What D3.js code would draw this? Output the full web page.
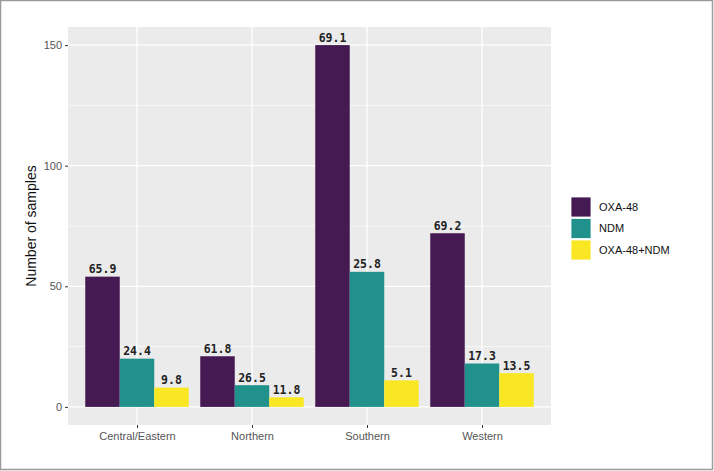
<!DOCTYPE html>
<html>
<head>
<meta charset="utf-8">
<script src="https://cdn.jsdelivr.net/npm/d3@7"></script>
<style>
  body { margin: 0; background: #fff; }
  svg { display: block; }
</style>
</head>
<body>
<div id="chart"></div>
<script>
// 데이터
const regions = ['Central/Eastern', 'Northern', 'Southern', 'Western'];
const genes = ['OXA-48', 'NDM', 'OXA-48+NDM'];
const oxa48 = [54, 21, 150, 72];
const ndm = [20, 9, 56, 18];
const oxaNdm = [8, 4, 11, 14];
const pctLabels = [
    ['65.9', '24.4', '9.8'],
    ['61.8', '26.5', '11.8'],
    ['69.1', '25.8', '5.1'],
    ['69.2', '17.3', '13.5']
];
const yTicks = [0, 50, 100, 150];
const yMinor = [25, 75, 125];
const colors = ['#451a53', '#21918c', '#f9e723'];

const W = 714, H = 471;
const panel = { left: 68, right: 551, top: 27, bottom: 425 };

const svg = d3.select('#chart').append('svg')
    .attr('width', W)
    .attr('height', H);

// 바깥 테두리
svg.append('rect')
    .attr('x', 0.5).attr('y', 0.5)
    .attr('width', 712).attr('height', 469)
    .attr('fill', '#fff')
    .attr('stroke', '#9a9a9a')
    .attr('stroke-width', 1.5);

// 스케일
const x = d3.scalePoint()
    .domain(regions)
    .range([panel.left, panel.right])
    .padding(0.6);
const step = x.step();

const y = d3.scaleLinear()
    .domain([-7.5, 157.5])
    .range([panel.bottom, panel.top]);

// 패널 배경
svg.append('rect')
    .attr('x', panel.left).attr('y', panel.top)
    .attr('width', panel.right - panel.left)
    .attr('height', panel.bottom - panel.top)
    .attr('fill', '#ebebeb');

// 그리드
yMinor.forEach(v => {
    svg.append('line')
        .attr('x1', panel.left).attr('x2', panel.right)
        .attr('y1', y(v)).attr('y2', y(v))
        .attr('stroke', '#fff').attr('stroke-width', 0.6);
});
yTicks.forEach(v => {
    svg.append('line')
        .attr('x1', panel.left).attr('x2', panel.right)
        .attr('y1', y(v)).attr('y2', y(v))
        .attr('stroke', '#fff').attr('stroke-width', 1.3);
});
regions.forEach(r => {
    svg.append('line')
        .attr('x1', x(r)).attr('x2', x(r))
        .attr('y1', panel.top).attr('y2', panel.bottom)
        .attr('stroke', '#fff').attr('stroke-width', 1.3);
});

// 막대
const series = [oxa48, ndm, oxaNdm];
const barW = step * 0.3;
regions.forEach((r, i) => {
    series.forEach((vals, j) => {
        const bx = x(r) - step * 0.45 + j * barW;
        svg.append('rect')
            .attr('x', bx)
            .attr('y', y(vals[i]))
            .attr('width', barW)
            .attr('height', y(0) - y(vals[i]))
            .attr('fill', colors[j]);

        svg.append('text')
            .attr('x', bx + barW / 2)
            .attr('y', y(vals[i]) - 3.5)
            .attr('text-anchor', 'middle')
            .attr('font-family', 'DejaVu Sans Mono')
            .attr('font-weight', 'bold')
            .attr('font-size', '11.5px')
            .attr('fill', '#222')
            .text(pctLabels[i][j]);
    });
});

// Y축
const yAxis = svg.append('g')
    .attr('transform', `translate(${panel.left},0)`)
    .call(d3.axisLeft(y).tickValues(yTicks).tickSize(3).tickPadding(3));
yAxis.select('.domain').remove();
yAxis.selectAll('line').attr('stroke', '#333').attr('stroke-width', 1);
yAxis.selectAll('text')
    .attr('font-family', 'Liberation Sans, Arial, sans-serif')
    .attr('font-size', '11px')
    .attr('fill', '#555');

// X축
const xAxis = svg.append('g')
    .attr('transform', `translate(0,${panel.bottom})`)
    .call(d3.axisBottom(x).tickSize(3).tickPadding(4));
xAxis.select('.domain').remove();
xAxis.selectAll('line').attr('stroke', '#333').attr('stroke-width', 1);
xAxis.selectAll('text')
    .attr('font-family', 'Liberation Sans, Arial, sans-serif')
    .attr('font-size', '11px')
    .attr('fill', '#555');

// Y축 제목
svg.append('text')
    .attr('transform', `translate(36,${(panel.top + panel.bottom) / 2}) rotate(-90)`)
    .attr('text-anchor', 'middle')
    .attr('font-family', 'Liberation Sans, Arial, sans-serif')
    .attr('font-size', '14px')
    .attr('fill', '#111')
    .text('Number of samples');

// 범례
const legend = svg.append('g').attr('transform', 'translate(571,197)');
genes.forEach((g, i) => {
    legend.append('rect')
        .attr('x', 0).attr('y', i * 21.5)
        .attr('width', 20).attr('height', 20)
        .attr('fill', colors[i])
        .attr('stroke', '#fff').attr('stroke-width', 0.8);
    legend.append('text')
        .attr('x', 28).attr('y', i * 21.5 + 10)
        .attr('dy', '0.35em')
        .attr('font-family', 'Liberation Sans, Arial, sans-serif')
        .attr('font-size', '11px')
        .attr('fill', '#111')
        .text(g);
});
</script>
</body>
</html>
